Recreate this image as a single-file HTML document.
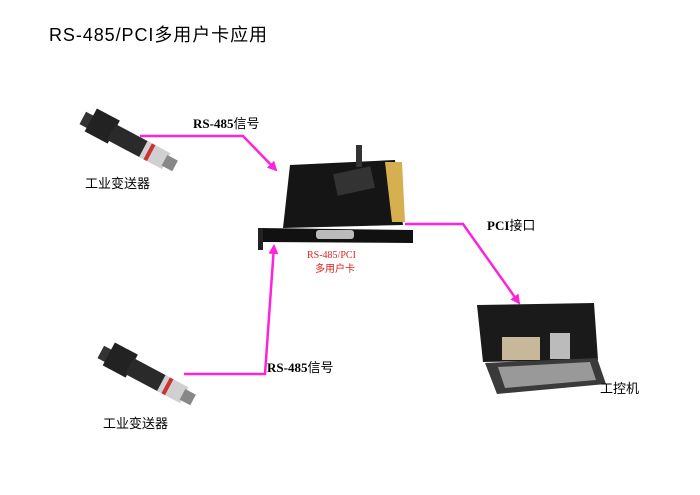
<!DOCTYPE html>
<html><head><meta charset="utf-8"><style>
body{margin:0;background:#fff;}
svg{display:block}
.s{font-family:"Liberation Sans","Noto Sans CJK SC",sans-serif}
.r{font-family:"Liberation Serif","Noto Serif CJK SC",serif}
</style></head><body>
<svg width="700" height="495" viewBox="0 0 700 495" xmlns="http://www.w3.org/2000/svg">
<defs>
<marker id="a" markerWidth="10" markerHeight="10" refX="8" refY="5" orient="auto" markerUnits="userSpaceOnUse"><path d="M0,0 L10,5 L0,10 z" fill="#ff22dd"/></marker>
<g id="tx" transform="rotate(28)">
  <rect x="-8" y="4" width="12" height="14" fill="#333"/>
  <rect x="0" y="-4" width="26" height="26" fill="#222"/>
  <rect x="24" y="1" width="38" height="18" fill="#2a2a2a"/>
  <rect x="60" y="1" width="26" height="18" fill="#d0d0d0"/>
  <rect x="65" y="1" width="4" height="18" fill="#c33"/>
  <rect x="84" y="4" width="12" height="12" fill="#888"/>
</g>
</defs>
<text class="s" x="49" y="41" font-size="18" fill="#000" textLength="218">RS-485/PCI多用户卡应用</text>

<use href="#tx" x="95" y="112"/>
<use href="#tx" x="113" y="346"/>
<text class="s" x="85" y="188" font-size="13">工业变送器</text>
<text class="s" x="103" y="428" font-size="13">工业变送器</text>

<polyline points="140,136 243,136 276,170" fill="none" stroke="#ff22dd" stroke-width="2.5" marker-end="url(#a)"/>
<polyline points="184,374 265,374 274,246" fill="none" stroke="#ff22dd" stroke-width="2.5" marker-end="url(#a)"/>
<polyline points="405,224 463,224 519,303" fill="none" stroke="#ff22dd" stroke-width="2.5" marker-end="url(#a)"/>

<text class="r" x="193" y="128" font-size="13" font-weight="bold">RS-485<tspan class="s" font-weight="normal">信号</tspan></text>
<text class="r" x="267" y="372" font-size="13" font-weight="bold">RS-485<tspan class="s" font-weight="normal">信号</tspan></text>
<text class="r" x="487" y="230" font-size="13" font-weight="bold">PCI<tspan class="s" font-weight="normal">接口</tspan></text>

<!-- card -->
<polygon points="290,165 395,160 403,225 283,228" fill="#151515"/>
<polygon points="385,162 402,162 405,222 392,222" fill="#d6b050"/>
<rect x="335" y="170" width="38" height="22" fill="#333" transform="rotate(-12 354 181)"/>
<rect x="356" y="145" width="6" height="22" fill="#333"/>
<polygon points="258,228 413,230 413,243 262,242" fill="#111"/>
<rect x="258" y="228" width="5" height="22" fill="#222"/>
<rect x="316" y="230" width="38" height="9" rx="3" fill="#bbb"/>
<text class="r" x="307" y="258" font-size="10" fill="#e02020">RS-485/PCI</text>
<text class="s" x="315" y="272" font-size="10" fill="#e02020">多用户卡</text>

<!-- IPC -->
<polygon points="477,305 594,303 598,360 483,362" fill="#1a1a1a"/>
<rect x="502" y="337" width="38" height="23" fill="#c8b89a"/>
<rect x="550" y="333" width="20" height="26" fill="#bbb"/>
<polygon points="485,363 597,358 606,384 497,394" fill="#3a3a3a"/>
<polygon points="498,367 590,362 596,380 505,388" fill="#999"/>
<text class="s" x="600" y="393" font-size="13">工控机</text>
</svg>
</body></html>
